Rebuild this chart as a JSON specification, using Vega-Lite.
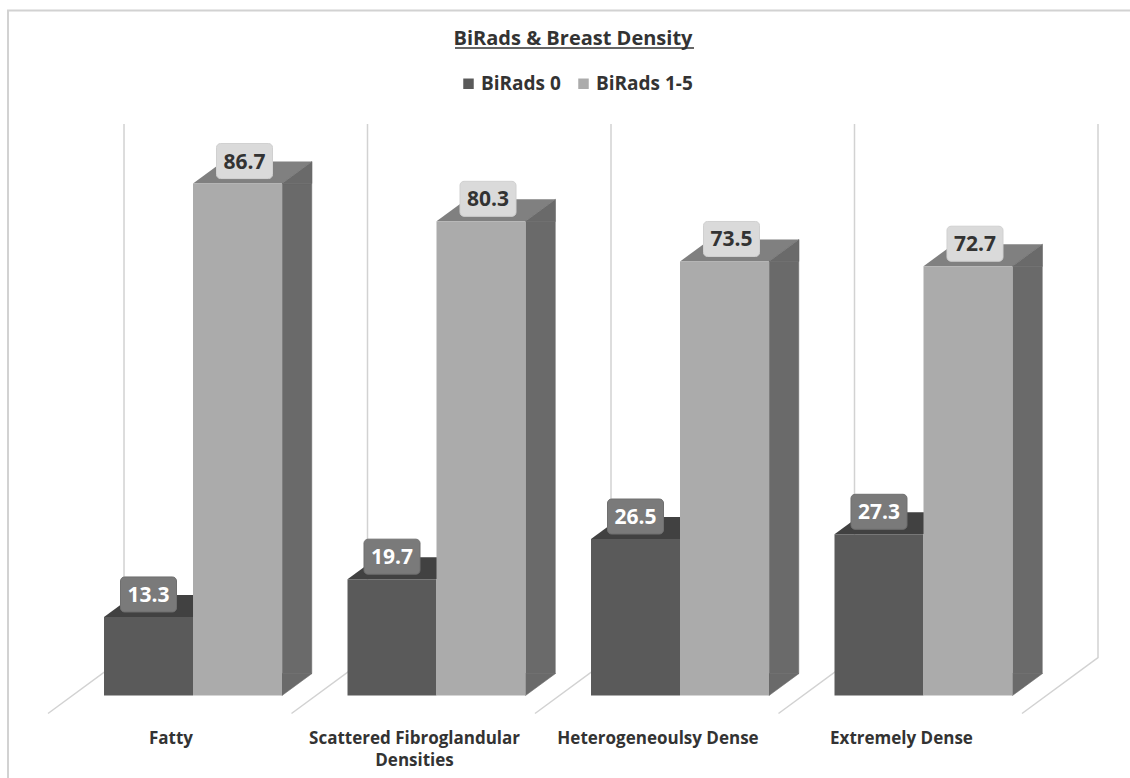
{
  "$schema": "https://vega.github.io/schema/vega-lite/v6.json",
  "width": 1050,
  "height": 590.5,
  "autosize": {"type": "none"},
  "padding": {"left": 48, "top": 105, "right": 32, "bottom": 82.5},
  "background": "white",
  "title": {
    "text": "BiRads & Breast Density",
    "anchor": "middle",
    "font": "Open Sans",
    "fontSize": 20,
    "fontWeight": "bold",
    "color": "#333333",
    "offset": -42
  },
  "config": {"view": {"stroke": null}},
  "data": {
    "values": [
      {"category": "Fatty", "series": "BiRads 0", "value": 13.3},
      {"category": "Fatty", "series": "BiRads 1-5", "value": 86.7},
      {"category": "Scattered Fibroglandular Densities", "series": "BiRads 0", "value": 19.7},
      {"category": "Scattered Fibroglandular Densities", "series": "BiRads 1-5", "value": 80.3},
      {"category": "Heterogeneoulsy Dense", "series": "BiRads 0", "value": 26.5},
      {"category": "Heterogeneoulsy Dense", "series": "BiRads 1-5", "value": 73.5},
      {"category": "Extremely Dense", "series": "BiRads 0", "value": 27.3},
      {"category": "Extremely Dense", "series": "BiRads 1-5", "value": 72.7}
    ]
  },
  "encoding": {
    "x": {
      "field": "category",
      "type": "nominal",
      "sort": null,
      "scale": {"paddingInner": 0.269, "paddingOuter": 0.2906, "align": 0.3958, "round": false},
      "axis": {
        "title": null,
        "domain": false,
        "ticks": false,
        "labelAngle": 0,
        "labelFont": "Open Sans",
        "labelFontSize": 17,
        "labelFontWeight": "bold",
        "labelColor": "#333333",
        "labelPadding": 35,
        "labelOffset": -22,
        "labelLimit": 300,
        "labelLineHeight": 22,
        "labelExpr": "datum.value === 'Scattered Fibroglandular Densities' ? ['Scattered Fibroglandular', 'Densities'] : datum.label"
      }
    },
    "y": {"field": "value", "type": "quantitative", "scale": {"domain": [0, 100]}, "axis": null}
  },
  "layer": [
    {
      "description": "Chart frame: left and top edges only",
      "transform": [{"filter": "datum.category === 'Fatty' && datum.series === 'BiRads 1-5'"}],
      "mark": {"type": "point", "shape": "M-185,82.5 V-685 H937", "size": 4, "filled": false, "stroke": "#d2d2d2", "strokeWidth": 2, "opacity": 1},
      "encoding": {"y": {"datum": 0}}
    },
    {
      "description": "Title underline",
      "transform": [{"filter": "datum.category === 'Scattered Fibroglandular Densities' && datum.series === 'BiRads 1-5'"}],
      "mark": {"type": "point", "shape": "M18.5,0 H257.5", "size": 4, "filled": false, "stroke": "#333333", "strokeWidth": 1.6, "opacity": 1},
      "encoding": {"y": {"datum": 109.65}}
    },
    {
      "description": "Back wall line and floor diagonal left of each category",
      "transform": [{"filter": "datum.series === 'BiRads 1-5'"}],
      "mark": {"type": "point", "shape": "M-69,-571.5 V-38 L-145,18", "size": 4, "filled": false, "stroke": "#d2d2d2", "strokeWidth": 1.5, "opacity": 1},
      "encoding": {"y": {"datum": 0}}
    },
    {
      "description": "Closing back wall line and floor diagonal after the last category",
      "transform": [{"filter": "datum.series === 'BiRads 1-5' && datum.category === 'Extremely Dense'"}],
      "mark": {"type": "point", "shape": "M174.5,-571.5 V-38 L98.5,18", "size": 4, "filled": false, "stroke": "#d2d2d2", "strokeWidth": 1.5, "opacity": 1},
      "encoding": {"y": {"datum": 0}}
    },
    {
      "description": "Top faces of the bars",
      "mark": {"type": "point", "shape": "M-44.5,0 L44.5,0 L74.5,-22 L-14.5,-22 Z", "size": 4, "filled": true, "opacity": 1, "strokeWidth": 0},
      "encoding": {
        "xOffset": {"field": "series", "type": "nominal", "scale": {"domain": ["BiRads 0", "BiRads 1-5"], "paddingInner": 0, "paddingOuter": 0}},
        "fill": {"condition": {"test": "datum.series === 'BiRads 0'", "value": "#414141"}, "value": "#808080"}
      }
    },
    {
      "description": "Side faces: body",
      "transform": [{"filter": "datum.series === 'BiRads 1-5'"}],
      "mark": {"type": "rect", "width": 29.5, "xOffset": 104, "y2Offset": -22, "fill": "#6a6a6a", "stroke": "#6a6a6a", "strokeWidth": 0.6},
      "encoding": {"y2": {"datum": 0}}
    },
    {
      "description": "Side faces: upper wedge",
      "transform": [{"filter": "datum.series === 'BiRads 1-5'"}],
      "mark": {"type": "point", "shape": "M89,0 L119,-22 L119,0 Z", "size": 4, "filled": true, "opacity": 1, "fill": "#6a6a6a", "stroke": "#6a6a6a", "strokeWidth": 0.6}
    },
    {
      "description": "Side faces: lower wedge",
      "transform": [{"filter": "datum.series === 'BiRads 1-5'"}],
      "mark": {"type": "point", "shape": "M89,0 L119,-22 L89,-22 Z", "size": 4, "filled": true, "opacity": 1, "fill": "#6a6a6a", "stroke": "#6a6a6a", "strokeWidth": 0.6},
      "encoding": {"y": {"datum": 0}}
    },
    {
      "description": "Front faces of the bars",
      "mark": {"type": "bar"},
      "encoding": {
        "xOffset": {"field": "series", "type": "nominal", "scale": {"domain": ["BiRads 0", "BiRads 1-5"], "paddingInner": 0, "paddingOuter": 0}},
        "y2": {"datum": 0},
        "color": {
          "field": "series",
          "type": "nominal",
          "sort": null,
          "scale": {"domain": ["BiRads 0", "BiRads 1-5"], "range": ["#5a5a5a", "#ababab"]},
          "legend": {
            "title": null,
            "orient": "none",
            "legendX": 411,
            "legendY": -31,
            "direction": "horizontal",
            "symbolType": "square",
            "symbolSize": 110,
            "symbolStrokeWidth": 0,
            "labelFont": "Open Sans",
            "labelFontSize": 19,
            "labelFontWeight": "bold",
            "labelColor": "#333333",
            "columnPadding": 13,
            "labelOffset": 3
          }
        }
      }
    },
    {
      "description": "Value label boxes, nudged per series",
      "mark": {"type": "rect", "width": 56, "height": 35, "cornerRadius": 4, "yOffset": -22.5, "xOffset": {"expr": "datum.series === 'BiRads 0' ? -44.5 : 51.5"}, "strokeWidth": 1},
      "encoding": {
        "fill": {"condition": {"test": "datum.series === 'BiRads 0'", "value": "#7a7a7a"}, "value": "#dadada"},
        "stroke": {"condition": {"test": "datum.series === 'BiRads 0'", "value": "#6f6f6f"}, "value": "#d0d0d0"}
      }
    },
    {
      "description": "Value labels",
      "mark": {"type": "text", "font": "Open Sans", "fontSize": 21, "fontWeight": "bold", "baseline": "middle", "align": "center", "yOffset": -21, "xOffset": {"expr": "datum.series === 'BiRads 0' ? -44.5 : 51.5"}},
      "encoding": {
        "text": {"field": "value", "type": "quantitative", "format": ".1f"},
        "color": {"condition": {"test": "datum.series === 'BiRads 0'", "value": "#ffffff"}, "value": "#333333"}
      }
    }
  ]
}
